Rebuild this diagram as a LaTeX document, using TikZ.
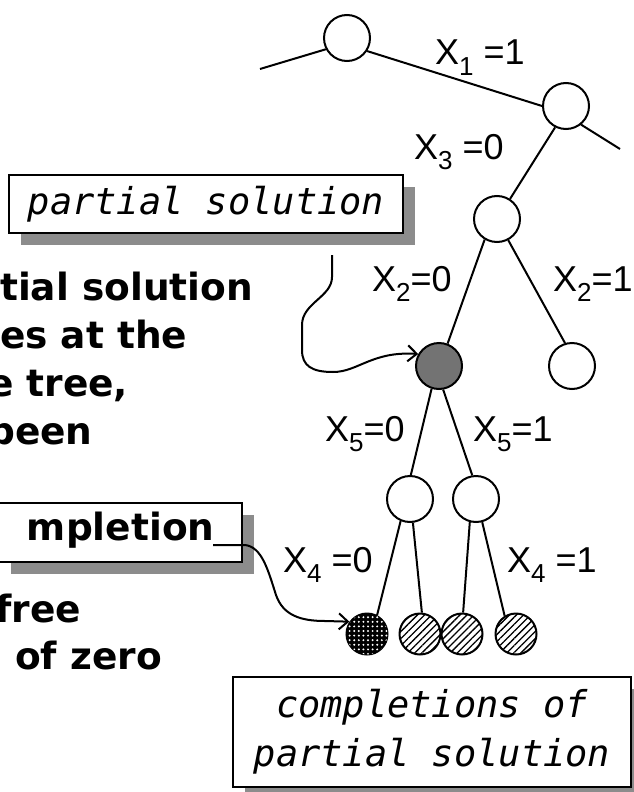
\documentclass[tikz,border=0pt]{standalone}
\usepackage{fontspec}
\setmainfont{DejaVu Sans}
\newfontfamily\chicfont{DejaVu Sans}
\newfontfamily\obfont{DejaVu Sans Mono}
\newfontfamily\lblfont{Liberation Sans}
\usetikzlibrary{arrows.meta,patterns.meta,shadows}
\newcommand{\xlab}[2]{{\lblfont\fontsize{36}{36}\selectfont X\raisebox{-10pt}{\fontsize{26}{26}\selectfont #1}#2}}
\tikzset{
  vtx/.style={circle, draw, line width=2pt, minimum size=46pt, inner sep=0pt, fill=white},
  shaded/.style={vtx, fill=black!55},
  leafchk/.style={circle, draw, line width=2pt, minimum size=41pt, inner sep=0pt, fill=black,
     postaction={pattern={Dots[radius=1.1pt,distance=4.6pt]}, pattern color=white}},
  leafhatch/.style={circle, draw, line width=2pt, minimum size=41pt, inner sep=0pt, fill=white,
     postaction={pattern={Lines[angle=45,distance=5pt,line width=1.3pt]}}},
  edge/.style={line width=2pt},
  conn/.style={line width=2pt, -{Straight Barb[length=9pt,width=16pt]}},
  lbl/.style={anchor=base west, inner sep=0pt},
  chic/.style={font=\chicfont\bfseries\fontsize{37.5}{37.5}\selectfont},
  obl/.style={font=\obfont\itshape\fontsize{37}{49}\selectfont},
  body/.style={chic, anchor=base west, inner sep=0pt},
  callout/.style={draw, line width=2pt, fill=white,
     drop shadow={shadow xshift=12pt, shadow yshift=-12pt, fill=black!45, opacity=1}},
}
\begin{document}
\begin{tikzpicture}[x=1pt,y=1pt]
\useasboundingbox (0,-792) rectangle (634,0);
\clip (0,-792) rectangle (634,0);
\fill[white] (0,-792) rectangle (634,0);

% tree nodes
\node[vtx] (top) at (347,-38) {};
\node[vtx] (n2) at (566,-106) {};
\node[vtx] (n3) at (497,-219) {};
\node[shaded] (ps) at (439,-366) {};
\node[vtx] (rn) at (572,-366) {};
\node[vtx] (lc) at (410,-499) {};
\node[vtx] (rc) at (476,-499) {};
\node[leafchk] (l1) at (367,-634) {};
\node[leafhatch] (l2) at (420,-634) {};
\node[leafhatch] (l3) at (462,-634) {};
\node[leafhatch] (l4) at (516,-634) {};
\coordinate (tl) at (260,-69);
\coordinate (tr) at (620,-149);

% edges
\draw[edge] (tl) -- (top.208);
\draw[edge] (top.327) -- (n2.180);
\draw[edge] (n2.309) -- (tr);
\draw[edge] (n2.243) -- (n3.57);
\draw[edge] (n3.239) -- (ps.69);
\draw[edge] (n3.298) -- (rn.107);
\draw[edge] (ps.252) -- (lc.88);
\draw[edge] (ps.280) -- (rc.99);
\draw[edge] (lc.247) -- (l1.62);
\draw[edge] (lc.277) -- (l2.85);
\draw[edge] (rc.255) -- (l3.87);
\draw[edge] (rc.285) -- (l4.122);

% edge labels
\node[lbl] (x1) at (435,-65) {\xlab{1}{ =1}};
\node[lbl] (x3) at (414,-159) {\xlab{3}{ =0}};
\node[lbl] (x20) at (372,-291) {\xlab{2}{=0}};
\node[lbl] (x21) at (553,-291) {\xlab{2}{=1}};
\node[lbl] (x50) at (325,-441) {\xlab{5}{=0}};
\node[lbl] (x51) at (473,-441) {\xlab{5}{=1}};
\node[lbl] (x40) at (283,-572) {\xlab{4}{ =0}};
\node[lbl] (x41) at (507,-572) {\xlab{4}{ =1}};

% callout boxes
\node[callout, obl, minimum width=394pt, minimum height=58pt, inner sep=0pt] (pbox) at (206,-204)
  {partial solution};
\node[callout, chic, anchor=base west, inner xsep=28pt, inner ysep=8pt, text height=29pt, text depth=14pt] (cbox) at (-2,-540)
  {mpletion};
\node[callout, obl, minimum width=398pt, minimum height=110pt, inner sep=0pt, align=center] (bbox) at (432,-732)
  {completions of\\partial solution};

% body text (cut by the frame, as in the reference)
\node[body] (t1) at (0,-300) {tial solution};
\node[body] (t2) at (0,-348) {es at the};
\node[body] (t3) at (-12,-396) {e tree,};
\node[body] (t4) at (-12,-444) {been};
\node[body] (t5) at (-5,-622) {free};
\node[body] (t6) at (15,-669) {of zero};

% connectors
\coordinate (c1) at (332,-255);
\draw[conn] (c1) -- (332,-277) .. controls (332,-297) and (302,-303) .. (302,-325) -- (302,-350)
  .. controls (302,-366) and (312,-372) .. (333,-372) .. controls (358,-372) and (372,-351) .. (ps.150);
\coordinate (c2) at (213,-545);
\draw[conn] (c2) -- (245,-545) .. controls (262,-547) and (268,-570) .. (276,-595)
  .. controls (283,-615) and (300,-621) .. (325,-621) -- (l1.145);
\end{tikzpicture}
\end{document}
